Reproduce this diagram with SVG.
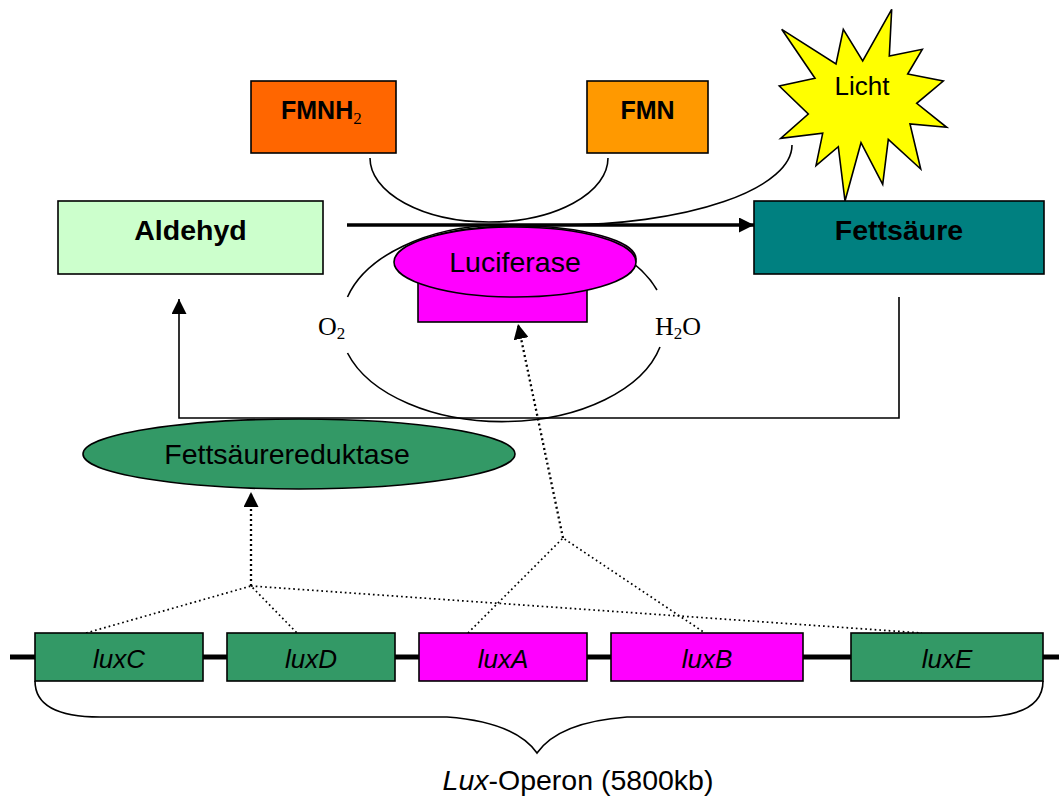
<svg xmlns="http://www.w3.org/2000/svg" width="1059" height="796" viewBox="0 0 1059 796">
  <style>
    .box { stroke: #000; stroke-width: 1.6; }
    .lbl { font-family: "Liberation Sans", Arial, sans-serif; fill: #000; }
    .b { font-weight: bold; }
    .ser { font-family: "Liberation Serif", "Times New Roman", serif; fill: #000; }
    .line { fill: none; stroke: #000; stroke-width: 1.6; }
    .dot { fill: none; stroke: #000; stroke-width: 1.7; stroke-dasharray: 1.7 3; }
    .dotA { fill: none; stroke: #000; stroke-width: 2.3; stroke-dasharray: 2 3; }
    .gene { font-family: "Liberation Sans", Arial, sans-serif; font-style: italic; font-size: 26px; text-anchor: middle; fill: #000; }
  </style>
  <defs>
    <marker id="tri" viewBox="0 0 10 10" refX="10" refY="5" markerWidth="15" markerHeight="15" markerUnits="userSpaceOnUse" orient="auto">
      <path d="M0,0 L10,5 L0,10 Z" fill="#000"/>
    </marker>
  </defs>

  <rect width="1059" height="796" fill="#fff"/>

  <!-- connectors -->
  <g id="connectors">
    <!-- FMNH2 -> FMN redox arc -->
    <path class="line" d="M370,158 A119,64 0 0 0 608,158"/>
    <!-- arc out to the light burst -->
    <path class="line" d="M560,225 A232,80 0 0 0 792,145"/>
    <!-- O2 / H2O ellipse, broken at the labels -->
    <path class="line" d="M347.5,297 A162,97 0 0 1 657,290"/>
    <path class="line" d="M347.5,353 A162,97 0 0 0 660,347"/>
    <!-- main reaction arrow Aldehyd -> Fettsäure -->
    <line x1="347" y1="225" x2="754" y2="225" stroke="#000" stroke-width="3.5" marker-end="url(#tri)"/>
    <!-- recycling loop Fettsäure -> Aldehyd -->
    <path class="line" d="M899,297 L899,418 L179,418 L179,299" stroke-width="2" marker-end="url(#tri)"/>
    <!-- gene-product links -->
    <path class="dot" d="M86,633 L251,586 L297,633"/>
    <path class="dot" d="M251,586 L922,633"/>
    <path class="dotA" d="M251,586 L251,492" marker-end="url(#tri)"/>
    <path class="dot" d="M468,633 L563,538 L705,633"/>
    <path class="dotA" d="M563,538 L518,324" marker-end="url(#tri)"/>
    <!-- operon backbone -->
    <line x1="10" y1="657" x2="1059" y2="657" stroke="#000" stroke-width="5"/>
    <!-- brace under the operon -->
    <path class="line" d="M35,681 Q35,717 100,717 L447,717 Q515,722 537,753 Q559,722 627,717 L978,717 Q1043,717 1043,681"/>
  </g>

  <g id="fmnh2">
    <rect class="box" x="251" y="81" width="145" height="72" fill="#FF6600"/>
    <text class="lbl b" x="281" y="119" font-size="25">FMNH<tspan class="ser" font-weight="normal" font-size="17" dy="5">2</tspan></text>
  </g>

  <g id="fmn">
    <rect class="box" x="587" y="81" width="121" height="72" fill="#FF9900"/>
    <text class="lbl b" x="647.5" y="119" font-size="25" text-anchor="middle">FMN</text>
  </g>

  <g id="licht">
    <polygon class="box" fill="#FFFF00" points="891.7,9.3 889.3,56 922.3,49.3 907.7,74 943.3,81 916.7,103.3 946.7,127.3 910,124 920.7,169 888.3,139.3 882.7,184.3 861,142.7 845,201 838.3,146.7 816,165.7 822.7,133.3 780.7,138.3 808.3,114 779.3,86 815,78.3 781.7,29.3 836,64 843.3,29.3 862.7,61"/>
    <text class="lbl" x="862" y="95" font-size="26" text-anchor="middle">Licht</text>
  </g>

  <g id="aldehyd">
    <rect class="box" x="58" y="201" width="265" height="73" fill="#CCFFCC"/>
    <text class="lbl b" x="190.5" y="240" font-size="28.5" text-anchor="middle">Aldehyd</text>
  </g>

  <g id="fettsaeure">
    <rect class="box" x="754" y="201" width="290" height="73" fill="#008080"/>
    <text class="lbl b" x="899" y="240" font-size="28.5" text-anchor="middle">Fettsäure</text>
  </g>

  <g id="luciferase">
    <rect class="box" x="418" y="272" width="169" height="50" fill="#FF00FF"/>
    <ellipse class="box" cx="518" cy="259" rx="118" ry="33" fill="#FF00FF"/>
    <ellipse class="box" cx="515" cy="262" rx="121" ry="35" fill="#FF00FF"/>
    <text class="lbl" x="515" y="272" font-size="28.5" text-anchor="middle">Luciferase</text>
  </g>

  <g id="o2">
    <text class="ser" x="318" y="335" font-size="26">O<tspan font-size="17" dy="4">2</tspan></text>
  </g>

  <g id="h2o">
    <text class="ser" x="655" y="335" font-size="26">H<tspan font-size="17" dy="4">2</tspan><tspan dy="-4">O</tspan></text>
  </g>

  <g id="reduktase">
    <ellipse class="box" cx="299" cy="454" rx="216" ry="35" fill="#339966"/>
    <text class="lbl" x="287" y="464" font-size="28.5" text-anchor="middle">Fettsäurereduktase</text>
  </g>

  <g id="luxC">
    <rect class="box" x="35" y="633" width="168" height="48" fill="#339966"/>
    <text class="gene" x="119" y="668">luxC</text>
  </g>
  <g id="luxD">
    <rect class="box" x="227" y="633" width="168" height="48" fill="#339966"/>
    <text class="gene" x="311" y="668">luxD</text>
  </g>
  <g id="luxA">
    <rect class="box" x="419" y="633" width="168" height="48" fill="#FF00FF"/>
    <text class="gene" x="503" y="668">luxA</text>
  </g>
  <g id="luxB">
    <rect class="box" x="611" y="633" width="192" height="48" fill="#FF00FF"/>
    <text class="gene" x="707" y="668">luxB</text>
  </g>
  <g id="luxE">
    <rect class="box" x="851" y="633" width="192" height="48" fill="#339966"/>
    <text class="gene" x="947" y="668">luxE</text>
  </g>

  <g id="operon-label">
    <text class="lbl" x="578" y="790" font-size="28.5" text-anchor="middle"><tspan font-style="italic">Lux</tspan>-Operon (5800kb)</text>
  </g>
</svg>
